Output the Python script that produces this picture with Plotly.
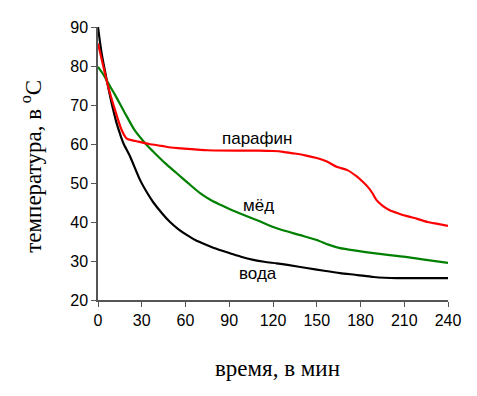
import plotly.graph_objects as go

# time, min / temperature, °C
t_water = [0, 2.5, 6, 9.4, 12.8, 15, 17.4, 22, 28.8, 34, 38, 44, 49.4, 55, 60.8, 67, 74.5, 82, 90.5, 98, 106.5, 114, 122.5, 130, 143, 155, 166, 178, 189, 205, 220, 240]
water = [90, 83.2, 76.4, 70.4, 65.3, 62.7, 60.2, 56.8, 50.8, 47.3, 45, 42.2, 40, 38.2, 36.7, 35.3, 34.1, 33, 32, 31.1, 30.3, 29.8, 29.4, 29, 28.2, 27.5, 26.9, 26.4, 25.9, 25.6, 25.6, 25.6]

t_copper = [0, 3, 7, 11.7, 18.5, 25, 30, 34.5, 38, 46, 54, 62, 70, 77, 84, 92, 100, 110, 122.5, 138, 150, 158, 166, 178, 189, 200, 212, 225, 240]
copper = [79.8, 78.2, 75.6, 72.6, 67.9, 63.6, 61.2, 59.3, 58, 55.1, 52.5, 49.9, 47.4, 45.7, 44.4, 43, 41.8, 40.3, 38.4, 36.7, 35.4, 34.2, 33.3, 32.6, 32, 31.5, 31, 30.3, 29.5]

t_paraffin = [0, 3.7, 7, 11.7, 16.2, 19.7, 23, 27.7, 35, 43.7, 50, 57.4, 75, 97, 110, 120, 127, 134, 142, 150, 157, 164, 171, 177, 181, 185, 188, 191, 195, 200, 206, 212, 219, 226, 233, 240]
paraffin = [85.8, 79.8, 74.7, 68.7, 63.6, 61.4, 61, 60.6, 60, 59.5, 59.1, 58.9, 58.4, 58.3, 58.3, 58.2, 58, 57.6, 57.1, 56.4, 55.5, 54.1, 53.3, 51.8, 50.5, 49, 47.5, 45.6, 44.2, 43, 42.2, 41.5, 40.8, 40, 39.5, 39]

labels = ["парафин", "мёд", "вода"]
label_x = [109, 110, 110]
label_y = [61.3, 44.2, 26.8]

x_ticks = [0, 30, 60, 90, 120, 150, 180, 210, 240]
y_ticks = [20, 30, 40, 50, 60, 70, 80, 90]

fig = go.Figure()
fig.add_trace(go.Scatter(x=t_water, y=water, mode="lines", line=dict(color="black", width=2.2, shape="spline", smoothing=0.7), showlegend=False))
fig.add_trace(go.Scatter(x=t_copper, y=copper, mode="lines", line=dict(color="#008000", width=2.2, shape="spline", smoothing=0.7), showlegend=False))
fig.add_trace(go.Scatter(x=t_paraffin, y=paraffin, mode="lines", line=dict(color="#ff0000", width=2.2, shape="spline", smoothing=0.7), showlegend=False))

for txt, xx, yy in zip(labels, label_x, label_y):
    fig.add_annotation(x=xx, y=yy, text=txt, showarrow=False, xanchor="center", yanchor="middle",
                       font=dict(family="Liberation Sans, Arial", size=17, color="black"))

fig.add_annotation(xref="paper", yref="paper", x=0.514, y=-0.25, text="время, в мин", showarrow=False,
                   xanchor="center", yanchor="middle",
                   font=dict(family="Liberation Serif, Times New Roman", size=23, color="black"))
fig.add_annotation(xref="paper", yref="paper", x=-0.19, y=0.49, text="температура, в <sup>o</sup>C", showarrow=False,
                   xanchor="center", yanchor="middle", textangle=-90,
                   font=dict(family="Liberation Serif, Times New Roman", size=23, color="black"))

fig.update_layout(
    width=469, height=388,
    margin=dict(l=90, r=29, t=19, b=96),
    paper_bgcolor="white", plot_bgcolor="white",
    font=dict(family="Liberation Sans, Arial", size=16, color="black"),
)
fig.update_xaxes(range=[0, 240], tickvals=x_ticks, showgrid=False, zeroline=False,
                 showline=True, linecolor="#555555", linewidth=1.5, ticks="outside", ticklen=5,
                 tickcolor="#555555", tickfont=dict(size=16, color="black"))
fig.update_yaxes(range=[20, 90], tickvals=y_ticks, showgrid=False, zeroline=False,
                 showline=True, linecolor="#555555", linewidth=1.5, ticks="outside", ticklen=5,
                 tickcolor="#555555", tickfont=dict(size=16, color="black"))

fig.write_html("out.html")
